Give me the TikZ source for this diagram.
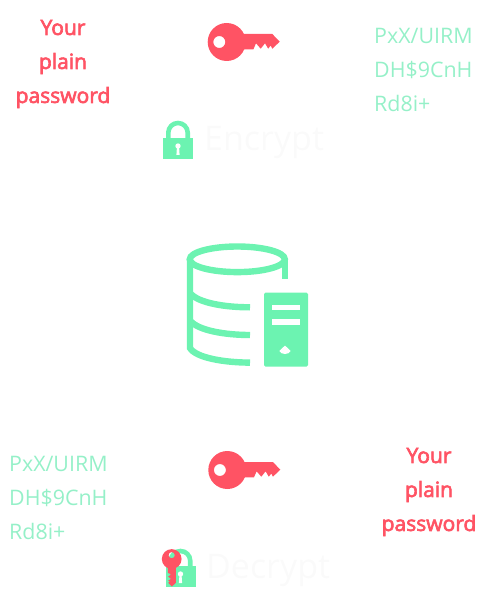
\documentclass[tikz,border=0pt]{standalone}
\usepackage{fontspec}
\usepackage{xcolor}
\usepackage{tikz}
\setmainfont{Open Sans}
\newfontfamily\semifont[FakeBold=3]{Open Sans}
\definecolor{KEYred}{HTML}{FF5364}
\definecolor{DBgreen}{HTML}{6CF3B1}
\definecolor{CIPHERgreen}{HTML}{95F0C8}
\definecolor{LABELfaint}{HTML}{FAFAFA}
\tikzset{
  plaintext/.style={align=center, text=KEYred, inner sep=0pt, font=\fontsize{21}{34}\selectfont\semifont},
  ciphertext/.style={align=left, text=CIPHERgreen, inner sep=0pt, font=\fontsize{21.4}{34}\selectfont},
  actionlabel/.style={text=LABELfaint, inner sep=0pt, font=\fontsize{34}{36}\selectfont},
  dbline/.style={draw=DBgreen, line width=6.4pt},
  keyicon/.pic={
    \fill[KEYred, even odd rule] (0,0) circle (19) (-7.4,0) circle (6);
    \fill[KEYred] (15,-8) -- (45.6,-8) -- (53,-0.3) -- (45.6,6.7) -- (44,3.5) -- (41.5,6.7) -- (38.3,1.3) -- (34,6.7) -- (29.3,1.3)
      -- (26.7,7.3) -- (15,7.3) -- cycle;
  },
  lockicon/.pic={
    \draw[DBgreen, line width=4.6pt] (-9.7,2) -- (-9.7,-5.3) arc[start angle=180, end angle=360, radius=9.7] -- (9.7,2);
    \fill[DBgreen] (-15,0) rectangle (15,21);
    \fill[white] (0,8) circle (2.7);
    \fill[white] (-1,8) -- (1,8) -- (1.6,17) -- (-1.6,17) -- cycle;
  }
}
\begin{document}
\begin{tikzpicture}[x=1pt,y=-1pt]
\useasboundingbox (0,0) rectangle (489,609);
% top row
\node[plaintext] (plainTop) at (63,64) {Your\\plain\\password};
\pic (keyTop) at (226.7,42) {keyicon};
\node[ciphertext, anchor=west] (cipherTop) at (374,70) {PxX/UIRM\\DH\$9CnH\\Rd8i+};
\pic (lockTop) at (178,138) {lockicon};
\node[actionlabel, anchor=west] (labelTop) at (204,142) {Encrypt};
% database and server
\draw[dbline] (237.3,259.3) ellipse[x radius=47.5, y radius=12.8];
\draw[dbline] (284.8,259.3) -- (284.8,279.3);
\draw[dbline] (190,293) .. controls (198,303) and (225,307.3) .. (250,307.3);
\draw[dbline] (190,320.5) .. controls (198,330.5) and (225,335) .. (250,335);
\draw[dbline] (190,259.3) -- (190,348) .. controls (196,358) and (225,362.6) .. (250,362.6);
\fill[DBgreen, rounded corners=1.5pt] (264,292.7) rectangle (308,366.7);
\fill[white] (271.7,305.3) rectangle (300,310.3);
\fill[white] (271.7,319.3) rectangle (300,324.7);
\fill[white] (279.3,351) .. controls (281,348.5) and (283.5,347.5) .. (285,345.7) .. controls (286.5,347.5) and (289,348.5) .. (290.7,351)
  .. controls (288.5,355) and (281.5,355) .. (279.3,351) -- cycle;
% bottom row
\node[ciphertext, anchor=west] (cipherBot) at (9,498) {PxX/UIRM\\DH\$9CnH\\Rd8i+};
\pic (keyBot) at (227.3,470) {keyicon};
\node[plaintext] (plainBot) at (429,492) {Your\\plain\\password};
\pic (lockBot) at (180.5,566) {lockicon};
\pic[rotate=-90, scale=0.52] (keyLock) at (171.7,559) {keyicon};
\node[actionlabel, anchor=west] (labelBot) at (206,570) {Decrypt};
\end{tikzpicture}
\end{document}
